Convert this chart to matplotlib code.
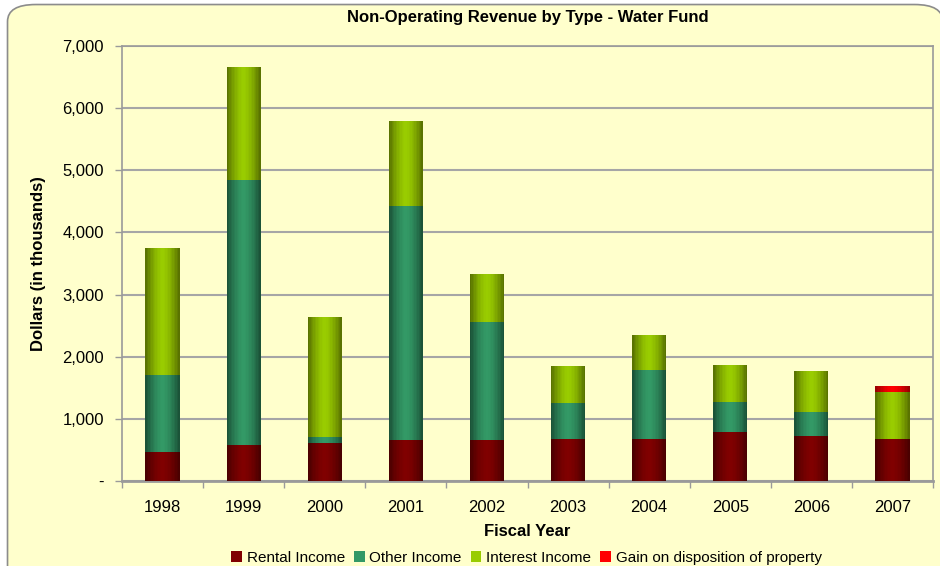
import numpy as np
import matplotlib
matplotlib.use("Agg")
import matplotlib.pyplot as plt
from matplotlib.patches import FancyBboxPatch, Patch
from matplotlib.ticker import FuncFormatter, FixedLocator
from matplotlib.colors import LinearSegmentedColormap

plt.rcParams['font.family'] = ['Liberation Sans', 'DejaVu Sans']

years = ['1998', '1999', '2000', '2001', '2002', '2003', '2004', '2005', '2006', '2007']
rental = [462, 580, 607, 655, 655, 671, 671, 784, 720, 672]
other = [1240, 4262, 97, 3768, 1901, 580, 1112, 483, 386, 0]
interest = [2045, 1817, 1932, 1369, 773, 596, 563, 596, 660, 756]
gain = [0, 0, 0, 0, 0, 0, 0, 0, 0, 97]

series_names = ['Rental Income', 'Other Income', 'Interest Income', 'Gain on disposition of property']
series_vals = [rental, other, interest, gain]
center_cols = ['#800000', '#339966', '#99CC00', '#FF0000']
edge_cols = ['#4A0000', '#1B5338', '#5A7300', '#9A0000']

BG = '#FFFFCC'
fig = plt.figure(figsize=(9.4, 5.66), dpi=100)
fig.patch.set_facecolor('white')
border = FancyBboxPatch((0.008, -0.05), 0.995, 1.042, boxstyle="round,pad=0,rounding_size=0.03",
                        transform=fig.transFigure, facecolor=BG, edgecolor='#8C8C8C',
                        linewidth=1.2, zorder=-10)
fig.patches.append(border)

ax = fig.add_axes([0.1298, 0.1502, 0.8628, 0.7685])
ax.set_facecolor(BG)
x = np.arange(len(years))
width = 0.42
NSTRIP = 24
offsets = (np.arange(NSTRIP) + 0.5) / NSTRIP - 0.5
profile = 1 - np.abs(np.linspace(-1, 1, NSTRIP)) ** 1.6
bottom = np.zeros(len(years))
for name, vals, cc, ec in zip(series_names, series_vals, center_cols, edge_cols):
    vals = np.array(vals, dtype=float)
    cmap = LinearSegmentedColormap.from_list('g', [ec, cc])
    for k in range(NSTRIP):
        ax.bar(x + offsets[k] * width, vals, width / NSTRIP * 1.05, bottom=bottom,
               color=cmap(profile[k]), zorder=3, linewidth=0)
    bottom += vals

ax.set_xlim(-0.5, len(years) - 0.5)
ax.set_ylim(0, 7000)
ax.set_yticks(np.arange(0, 7001, 1000))
ax.yaxis.set_major_formatter(FuncFormatter(lambda v, p: '-' if v == 0 else f'{int(v):,}'))
ax.set_xticks(x)
ax.set_xticklabels(years)
ax.xaxis.set_minor_locator(FixedLocator(np.arange(-0.5, len(years), 1)))
ax.tick_params(axis='x', which='major', length=0, pad=14, labelsize=12)
ax.tick_params(axis='x', which='minor', length=5, color='#9A9A9A', width=1)
ax.tick_params(axis='y', length=5, color='#9A9A9A', width=1, labelsize=12, pad=8)
ax.grid(axis='y', color='#A6A6A6', linewidth=1.5, zorder=1)
ax.set_axisbelow(True)
for s in ax.spines.values():
    s.set_color('#9A9A9A')
    s.set_linewidth(1.2)
ax.spines['bottom'].set_linewidth(2)

ax.set_title('Non-Operating Revenue by Type - Water Fund', fontsize=12, fontweight='bold', pad=17)
ax.set_xlabel('Fiscal Year', fontsize=12, fontweight='bold', labelpad=6)
ax.set_ylabel('Dollars (in thousands)', fontsize=12, fontweight='bold', labelpad=12)

handles = [Patch(facecolor=c, edgecolor='none') for c in center_cols]
fig.legend(handles, series_names, loc='center', bbox_to_anchor=(0.56, 0.014), ncol=4,
           frameon=False, fontsize=11, handlelength=0.7, handleheight=0.7, handletextpad=0.3,
           columnspacing=0.6)

fig.savefig('out.png', dpi=100, facecolor=fig.get_facecolor())
